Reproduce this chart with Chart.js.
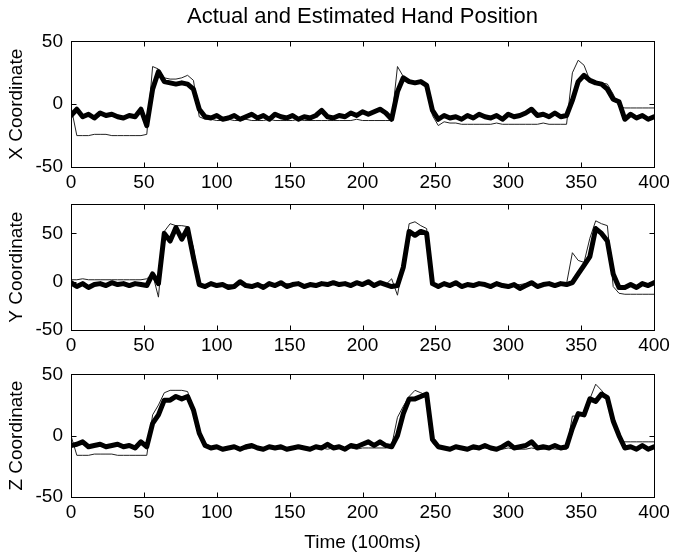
<!DOCTYPE html>
<html lang="en">
<head>
  <meta charset="UTF-8">
  <title>Actual and Estimated Hand Position</title>
  <script src="https://cdn.jsdelivr.net/npm/chart.js@4.4.1/dist/chart.umd.min.js"></script>
  <style>
    body { margin: 0; background: #fff; overflow: hidden; }
    canvas { position: absolute; left: 0; }
  </style>
</head>
<body>
<canvas id="cX" width="674" height="195" style="top:0px"></canvas>
<canvas id="cY" width="674" height="170" style="top:185px"></canvas>
<canvas id="cZ" width="674" height="204" style="top:355px"></canvas>
<script>
// sample times (100ms units), one value every 4 steps
const time = Array.from({length: 101}, (_, i) => i * 4);

const xActual = [
  -2,-25,-25,-25,-24,-24,-24,-25,-25,-25,
  -25,-25,-25,-24,30,28,21,20,20,21,
  23,19,-10,-12,-12,-13,-13,-12,-13,-13,
  -12,-13,-13,-13,-12,-13,-13,-13,-13,-12,
  -13,-13,-13,-13,-13,-13,-13,-13,-13,-12,
  -13,-13,-13,-13,-13,-13,30,22,17,16,
  17,16,-9,-17,-14,-15,-15,-16,-16,-16,
  -16,-16,-16,-15,-16,-16,-16,-16,-16,-16,
  -16,-15,-16,-16,-16,-16,25,35,31,19,
  18,17,16,8,-2,-3,-3,-3,-3,-3,
  -3
];
const xEstimated = [
  -9,-4,-10,-8,-11,-7,-9,-8,-10,-11,
  -9,-10,-4,-17,12,26,18,17,16,17,
  16,12,-4,-10,-11,-9,-12,-11,-9,-12,
  -10,-8,-11,-9,-12,-8,-10,-11,-9,-12,
  -10,-11,-9,-5,-10,-11,-9,-10,-7,-9,
  -6,-8,-6,-4,-7,-12,10,21,18,17,
  18,15,-5,-12,-9,-11,-10,-12,-9,-11,
  -8,-10,-11,-9,-12,-8,-10,-9,-7,-4,
  -9,-8,-10,-7,-10,-9,3,18,23,19,
  17,16,12,4,2,-12,-8,-11,-9,-12,
  -10
];
const yActual = [
  2,2,3,2,2,2,2,2,2,2,
  2,2,2,3,8,-16,52,60,58,58,
  57,35,-3,-4,-3,-4,-3,-3,-4,-3,
  -3,-4,-3,-3,-4,-3,-3,-2,-3,-3,
  -3,-2,-3,-3,-2,-3,-3,-2,-3,-2,
  -2,-3,-2,-2,-3,3,-14,20,60,62,
  58,55,-3,-4,-3,-3,-4,-3,-3,-4,
  -3,-3,-3,-4,-3,-3,-3,-3,-2,-3,
  -3,-2,-3,-2,-2,-2,30,22,20,45,
  63,60,58,-5,-12,-13,-13,-13,-13,-13,
  -13
];
const yEstimated = [
  -1,-5,-2,-6,-3,-2,-4,-1,-3,-2,
  -4,-2,-3,-4,8,-2,50,42,56,44,
  55,25,-3,-5,-2,-4,-3,-6,-5,0,
  -4,-5,-3,-6,-2,-4,-1,-5,-3,-2,
  -5,-3,-4,-2,-3,-1,-3,-2,-4,-1,
  -3,0,-4,-1,-3,-5,-4,15,52,48,
  52,50,-2,-5,-2,-4,-1,-5,-3,-4,
  -2,-3,-5,-2,-4,-5,-3,-7,-4,-1,
  -5,-3,-2,-4,-2,-3,-1,8,17,26,
  55,50,42,8,-6,-6,-3,-6,-2,-4,
  -1
];
const zActual = [
  0,-16,-16,-16,-15,-15,-15,-15,-16,-16,
  -16,-16,-16,-16,17,25,35,37,37,37,
  36,22,2,-6,-9,-10,-10,-11,-10,-10,
  -11,-10,-10,-11,-10,-10,-11,-10,-10,-10,
  -11,-10,-10,-10,-11,-10,-10,-10,-10,-11,
  -10,-10,-10,-10,-10,-8,15,24,32,37,
  35,33,-6,-10,-11,-11,-10,-11,-11,-11,
  -11,-10,-11,-11,-11,-10,-11,-11,-11,-10,
  -11,-11,-10,-11,-11,-11,16,16,17,30,
  42,37,31,15,-3,-5,-5,-5,-5,-5,
  -5
];
const zEstimated = [
  -8,-7,-5,-9,-8,-7,-9,-8,-7,-9,
  -8,-10,-5,-9,10,17,29,29,32,30,
  32,21,2,-8,-10,-9,-11,-10,-9,-11,
  -9,-8,-10,-11,-9,-10,-9,-11,-10,-9,
  -10,-11,-9,-10,-7,-10,-9,-11,-8,-9,
  -7,-5,-8,-5,-8,-9,0,18,30,30,
  32,34,-3,-9,-10,-11,-9,-10,-11,-9,
  -10,-8,-10,-11,-9,-6,-10,-9,-8,-5,
  -10,-9,-10,-8,-10,-9,6,18,17,30,
  28,34,31,12,0,-10,-9,-11,-8,-11,
  -9
];

Chart.defaults.font.family = '"Liberation Sans", Arial, sans-serif';
Chart.defaults.color = '#000';

// matlab style box with inward ticks
const boxPlugin = {
  id: 'box',
  afterDatasetsDraw(chart) {
    const {ctx, chartArea: a, scales: {x, y}} = chart;
    const L = Math.round(a.left) + 0.5, R = Math.round(a.right) + 0.5;
    const T = Math.round(a.top) + 0.5, B = Math.round(a.bottom) + 0.5;
    ctx.save();
    ctx.strokeStyle = '#000';
    ctx.lineWidth = 1;
    ctx.strokeRect(L, T, R - L, B - T);
    ctx.beginPath();
    x.ticks.forEach(t => {
      const p = Math.round(x.getPixelForValue(t.value)) + 0.5;
      ctx.moveTo(p, B); ctx.lineTo(p, B - 5);
      ctx.moveTo(p, T); ctx.lineTo(p, T + 5);
    });
    y.ticks.forEach(t => {
      const p = Math.round(y.getPixelForValue(t.value)) + 0.5;
      ctx.moveTo(L, p); ctx.lineTo(L + 5, p);
      ctx.moveTo(R, p); ctx.lineTo(R - 5, p);
    });
    ctx.stroke();
    ctx.restore();
  }
};

function makeChart(id, est, act, yMin, yMax, yTitle, xHeight, title, xTitle) {
  return new Chart(document.getElementById(id), {
    type: 'line',
    data: {
      datasets: [{
        data: time.map((t, i) => ({x: t, y: est[i]})),
        borderColor: '#000',
        borderWidth: 5,
        borderJoinStyle: 'round',
        borderCapStyle: 'round',
        pointRadius: 0
      }, {
        data: time.map((t, i) => ({x: t, y: act[i]})),
        borderColor: '#222',
        borderWidth: 1,
        pointRadius: 0
      }]
    },
    options: {
      responsive: false,
      animation: false,
      devicePixelRatio: 1,
      layout: {padding: {left: 0, right: 20, top: 0, bottom: 0}},
      plugins: {
        legend: {display: false},
        tooltip: {enabled: false},
        title: {
          display: !!title,
          text: title,
          fullSize: false,
          font: {size: 22, weight: 'normal'},
          padding: {top: 4, bottom: 11}
        }
      },
      scales: {
        x: {
          type: 'linear',
          min: 0, max: 400,
          grid: {display: false, drawTicks: false},
          border: {display: false},
          ticks: {stepSize: 50, padding: 4, font: {size: 19}, maxRotation: 0, autoSkip: false},
          title: {display: !!xTitle, text: xTitle, font: {size: 19}, padding: {top: 0, bottom: 5}},
          afterFit: s => { s.height = xHeight; }
        },
        y: {
          min: yMin, max: yMax,
          grid: {display: false, drawTicks: false},
          border: {display: false},
          ticks: {stepSize: 50, padding: 8, font: {size: 19}, includeBounds: false},
          title: {display: true, text: yTitle, font: {size: 19}, padding: {top: 5, bottom: 0}},
          afterFit: s => { s.width = 71; }
        }
      }
    },
    plugins: [boxPlugin]
  });
}

makeChart('cX', xEstimated, xActual, -50, 50, 'X Coordinate', 28, 'Actual and Estimated Hand Position', '');
makeChart('cY', yEstimated, yActual, -50, 80, 'Y Coordinate', 25, '', '');
makeChart('cZ', zEstimated, zActual, -50, 50, 'Z Coordinate', 62, '', 'Time (100ms)');
</script>
</body>
</html>
